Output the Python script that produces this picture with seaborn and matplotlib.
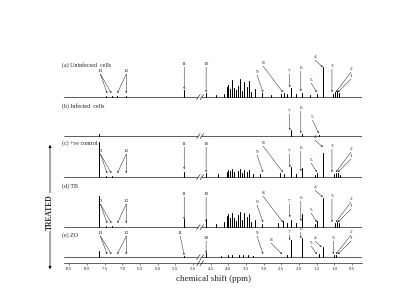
"""Stacked 1H NMR spectra of cell extracts (uninfected, infected, treated)."""

import matplotlib
matplotlib.use("Agg")
import matplotlib.pyplot as plt
import numpy as np
import pandas as pd
import seaborn as sns

# ---- data ---------------------------------------------------------------
# peak positions (ppm) and peak heights (arbitrary intensity) per spectrum
shift_a = [7.45, 7.30, 7.15, 6.90, 5.25, 4.63, 4.35, 4.12, 4.05, 4.00, 3.95,
           3.90, 3.85, 3.78, 3.72, 3.68, 3.62, 3.55, 3.48, 3.42, 3.35, 3.25,
           3.05, 2.80, 2.50, 2.42, 2.35, 2.23, 2.10, 1.92, 1.70, 1.50, 1.33,
           1.05, 0.98, 0.93, 0.88]
height_a = [1, 1, 1, 1.5, 7, 4, 2, 3, 10, 12, 8,
            17, 9, 7, 11, 18, 6, 15, 10, 16, 5, 8,
            4, 2, 3, 4, 3, 9, 3, 4, 2, 3, 30,
            3, 5, 6, 4]

shift_b = [7.65, 2.23, 1.92, 1.45]
height_b = [2, 6, 2, 1.5]

shift_c = [7.65, 7.45, 7.30, 5.25, 4.63, 4.30, 4.05, 4.00, 3.95, 3.90, 3.85,
           3.72, 3.68, 3.62, 3.55, 3.48, 3.42, 3.30, 3.10, 2.55, 2.42, 2.23,
           2.10, 1.92, 1.55, 1.48, 1.33, 1.00, 0.95, 0.90, 0.85]
height_c = [35, 1, 1, 5, 4, 3, 5, 7, 6, 8, 5,
            6, 8, 4, 7, 5, 7, 3, 3, 4, 3, 10,
            3, 9, 2, 4, 24, 3, 4, 4, 2]

shift_d = [7.65, 7.45, 7.30, 5.25, 4.63, 4.35, 4.12, 4.05, 4.00, 3.95, 3.90,
           3.85, 3.78, 3.72, 3.68, 3.62, 3.55, 3.48, 3.42, 3.35, 3.25, 3.05,
           2.60, 2.45, 2.35, 2.23, 2.10, 1.92, 1.55, 1.48, 1.33, 0.98, 0.93,
           0.88]
height_d = [31, 1, 1, 8, 8, 3, 5, 11, 13, 9, 14,
            9, 6, 12, 15, 7, 14, 10, 13, 5, 7, 3,
            4, 6, 4, 7, 4, 13, 3, 6, 29, 4, 5,
            4]

shift_e = [7.65, 5.25, 4.63, 4.20, 4.00, 3.90, 3.70, 3.60, 3.45, 3.30, 2.35,
           2.23, 1.92, 1.45, 1.33, 1.00, 0.95]
height_e = [6, 1, 4, 1, 2, 2, 2, 2, 2, 1, 2,
            17, 19, 3, 10, 2, 2]

spectrum_names = ["(a) Uninfected  cells", "(b) Infected  cells",
                  "(c) +ve control", "(d) TB", "(e) ZO"]
x_ticks = [8.5, 8.0, 7.5, 7.0, 6.5, 6.0, 5.5, 5.0, 4.5, 4.0, 3.5, 3.0, 2.5,
           2.0, 1.5, 1.0, 0.5]

# ---- layout (vertical units = pixels above the x axis) -------------------
baselines = [166, 127, 86, 36, 6]
name_dy = [32, 30, 34, 41, 22]
x_lo, x_hi = 0.22, 8.65
break_ppm = 4.80

# annotation layout: (label, text ppm, text dy, [(target ppm, target dy), ...])
ann_full = [
    ("13", 7.62, 24, [(7.43, 4), (7.31, 4)]),
    ("12", 6.89, 24, [(7.14, 4), (6.89, 4)]),
    ("11", 5.25, 31, [(5.25, 8)]),
    ("10", 4.63, 31, [(4.63, 5)]),
    ("9", 3.19, 23, [(3.02, 5)]),
    ("8", 3.02, 32, [(2.46, 5)]),
    ("7", 2.28, 24, [(2.26, 10)]),
    ("6", 1.95, 27, [(1.95, 6)]),
    ("5", 1.66, 15, [(1.50, 5)]),
    ("4", 1.55, 38, [(1.33, 30)]),
    ("3", 1.07, 29, [(1.07, 5)]),
    ("2", 0.53, 26, [(0.96, 5)]),
    ("1", 0.53, 19, [(0.90, 5)]),
]
ann_b = [
    ("7", 2.28, 23, [(2.26, 6)]),
    ("6", 1.95, 26, [(1.95, 3)]),
    ("5", 1.62, 17, [(1.45, 3)]),
]
ann_e = [
    ("13", 7.62, 22, [(7.43, 3), (7.31, 3)]),
    ("12", 6.89, 22, [(7.14, 3), (6.89, 3)]),
    ("11", 5.36, 22, [(5.25, 2)]),
    ("10", 4.63, 17, [(4.63, 4)]),
    ("9", 3.19, 22, [(3.02, 3)]),
    ("8", 2.79, 15, [(2.48, 3)]),
    ("7", 2.28, 23, [(2.26, 17)]),
    ("6", 1.95, 26, [(1.95, 19)]),
    ("5", 1.66, 12, [(1.50, 3)]),
    ("4", 1.55, 17, [(1.36, 10)]),
    ("3", 1.03, 17, [(1.03, 3)]),
    ("2", 0.53, 23, [(0.96, 3)]),
    ("1", 0.53, 17, [(0.90, 3)]),
]
annotations = [ann_full, ann_b, ann_full, ann_full, ann_e]

sns.set_style("white")
plt.rcParams["font.family"] = ["Liberation Serif", "DejaVu Serif"]


def stick_trace(shifts, heights, base):
    """Baseline with a vertical stick for every peak, high ppm to low ppm."""
    xs, ys = [x_hi], [base]
    for p, h in sorted(zip(shifts, heights), reverse=True):
        xs += [p, p, p]
        ys += [base, base + h, base]
    xs.append(x_lo)
    ys.append(base)
    return xs, ys


def break_mark(ax, base):
    """'//' axis-break sign cut into a baseline."""
    gap = 0.05
    ax.plot([break_ppm + gap, break_ppm - gap], [base, base], color="white",
            lw=1.2, solid_capstyle="butt", zorder=3)
    for c in (break_ppm + gap, break_ppm - gap):
        ax.plot([c + 0.05, c - 0.05], [base - 2.5, base + 2.5],
                color="black", lw=0.4, zorder=4, clip_on=False)


rows = []
all_shifts = [shift_a, shift_b, shift_c, shift_d, shift_e]
all_heights = [height_a, height_b, height_c, height_d, height_e]
for i, (s, h) in enumerate(zip(all_shifts, all_heights)):
    xs, ys = stick_trace(s, h, baselines[i])
    for k, (x, y) in enumerate(zip(xs, ys)):
        rows.append({"spectrum": i, "order": k, "ppm": x, "y": y})
df = pd.DataFrame(rows)

fig = plt.figure(figsize=(4, 3), dpi=100)
ax = fig.add_axes([0.16, 0.123, 0.745, 0.75])

sns.lineplot(data=df, x="ppm", y="y", units="spectrum", estimator=None,
             sort=False, color="black", lw=0.45, ax=ax, legend=False)

for i, base in enumerate(baselines):
    ax.text(8.70, base + name_dy[i], spectrum_names[i], fontsize=4.3,
            ha="left", va="center")
    break_mark(ax, base)
    for lab, tx, tdy, targets in annotations[i]:
        ax.text(tx, base + tdy, lab, fontsize=3.8, ha="center", va="bottom")
        for px, pdy in targets:
            ax.annotate("", xy=(px, base + pdy), xytext=(tx, base + tdy - 1),
                        arrowprops=dict(arrowstyle="->", lw=0.3,
                                        color="black", mutation_scale=2.8,
                                        shrinkA=0, shrinkB=0))

ax.set_xlim(x_hi, x_lo)
ax.set_ylim(0, 225)
ax.set_xticks(x_ticks)
ax.set_xticklabels([f"{t:.1f}" for t in x_ticks], fontsize=3.5)
ax.set_yticks([])
ax.set_ylabel("")
ax.set_xlabel("chemical shift (ppm)", fontsize=6.5, labelpad=3)
ax.tick_params(axis="x", direction="out", length=1.5, width=0.4, pad=1.5,
               bottom=True)
for side in ["top", "right", "left"]:
    ax.spines[side].set_visible(False)
ax.spines["bottom"].set_linewidth(0.5)
break_mark(ax, 0)

# "TREATED" bracket on the left, in figure pixel coordinates
fig.add_artist(matplotlib.patches.FancyArrowPatch(
    (50 / 400, 1 - 142 / 300), (50 / 400, 1 - 272 / 300),
    transform=fig.transFigure, arrowstyle="<|-|>", mutation_scale=4,
    lw=0.5, color="black"))
fig.text(50 / 400, 1 - 212 / 300, "TREATED", rotation=90, fontsize=5.5,
         fontweight="bold", ha="center", va="center",
         bbox=dict(facecolor="white", edgecolor="none", pad=0.5))

fig.savefig("out.png", dpi=100)
